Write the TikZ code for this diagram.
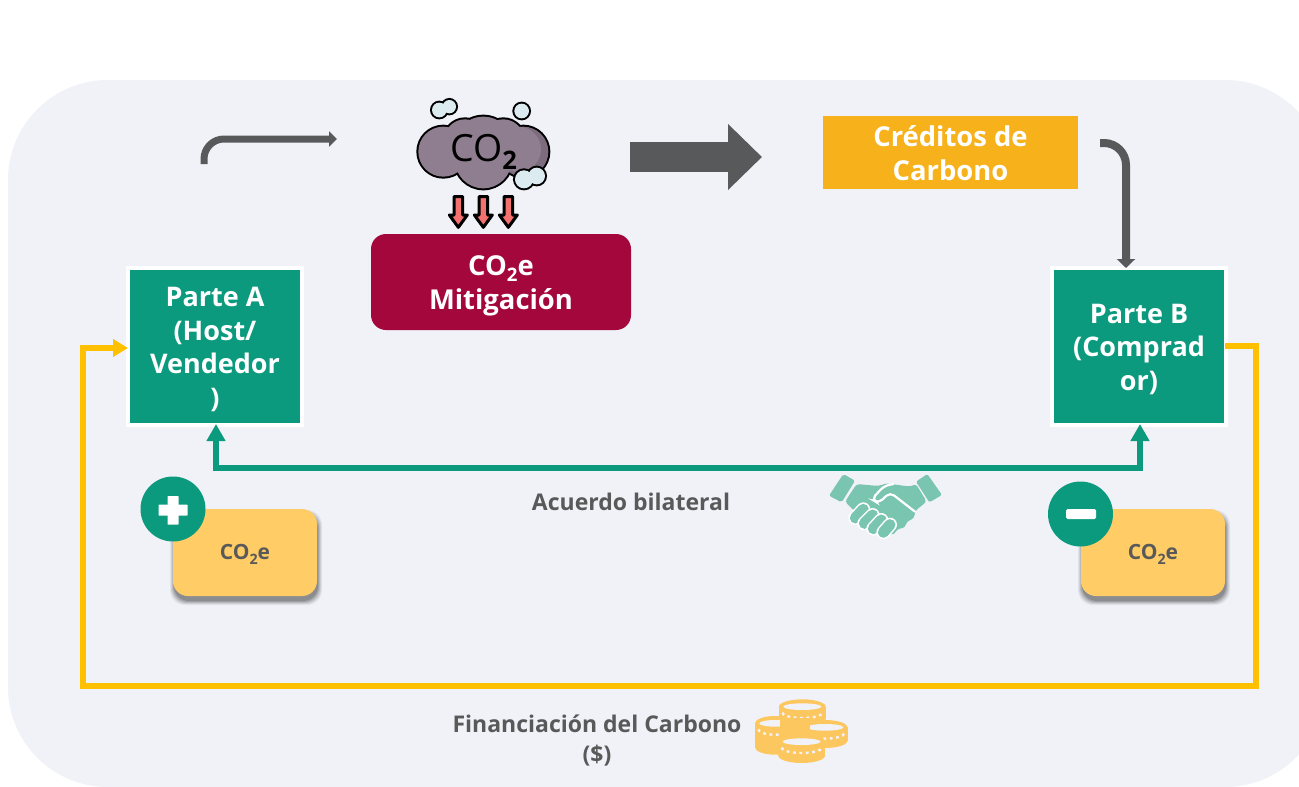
\documentclass[tikz,border=0pt]{standalone}
\usepackage{fontspec}
\usepackage{graphicx}
\setmainfont{Open Sans}
\usetikzlibrary{arrows.meta,calc}
\definecolor{bgc}{HTML}{F0F2F8}
\definecolor{greenc}{HTML}{0B9A7E}
\definecolor{greyc}{HTML}{58595B}
\definecolor{txtc}{HTML}{595959}
\definecolor{goldc}{HTML}{FFC000}
\definecolor{softc}{HTML}{FFCC66}
\definecolor{coinc}{HTML}{FDC75F}
\definecolor{redc}{HTML}{A4073B}
\definecolor{orangec}{HTML}{F6B11B}
\definecolor{shakec}{HTML}{7AC5B0}
\definecolor{cloudc}{HTML}{8F7E90}
\definecolor{cloudd}{HTML}{7C6C7E}
\definecolor{puffc}{HTML}{DCEBF0}
\definecolor{arrowred}{HTML}{F4716F}
\newcommand{\subtwo}{\raisebox{-.22em}{\scalebox{.68}{2}}}
\newcommand{\coinstack}[4]{% x y rx bodyheight
  \fill[coinc] (#1,#2) ellipse[x radius=#3,y radius=22];
  \fill[coinc] (#1,#2+#4) ellipse[x radius=#3,y radius=22];
  \fill[coinc] (#1-#3,#2) rectangle (#1+#3,#2+#4);
  \fill[bgc] (#1,#2) ellipse[x radius=#3-13,y radius=10];
  \draw[bgc,line width=2.4pt,dash pattern=on 2.8pt off 3.6pt] (#1-#3+10,#2+18) arc[start angle=180,end angle=0,x radius=#3-10,y radius=16];
}
\newcommand{\softshadowat}[2]{%
  \foreach \grow/\op in {4/.06,3/.08,2/.10,1/.12,0/.14}{
    \fill[black,opacity=\op,rounded corners=15pt] (#1-72-\grow+1,#2-43.5-\grow+5) rectangle (#1+72+\grow+1,#2+43.5+\grow+5);
  }
}
\tikzset{
  x=1pt,y=-1pt,
  party/.style={fill=greenc,draw=white,line width=4pt,minimum width=174pt,minimum height=157pt,inner sep=0pt},
  partytext/.style={inner sep=0pt,text=white,align=center,font=\bfseries\fontsize{27}{33.5}\selectfont},
  softbox/.style={fill=softc,rounded corners=15pt,minimum width=144pt,minimum height=87pt,inner sep=0pt},
  softtext/.style={inner sep=0pt,text=txtc,font=\bfseries\fontsize{21}{24}\selectfont},
  badge/.style={circle,fill=greenc,minimum size=65pt,inner sep=0pt},
  capt/.style={text=txtc,align=center,font=\bfseries\fontsize{23}{30}\selectfont},
  titlebox/.style={inner sep=0pt},
  titletext/.style={text=white,align=center,inner sep=0pt,font=\bfseries\fontsize{27.4}{33.5}\selectfont},
  greyarrow/.style={draw=greyc,line width=8pt,rounded corners=22pt,-{Triangle[length=9pt,width=18pt]}},
  greenarrow/.style={draw=greenc,line width=6pt,{Triangle[length=17pt,width=18pt]}-{Triangle[length=17pt,width=18pt]}},
  goldarrow/.style={draw=goldc,line width=5.5pt,-{Triangle[length=15pt,width=17pt]}},
}
\begin{document}
\begin{tikzpicture}
\useasboundingbox (0,0) rectangle (1299,787);
\clip (0,0) rectangle (1299,787);
\fill[white] (0,0) rectangle (1299,787);
\fill[bgc,rounded corners=100pt] (8,80) rectangle (1325,787);

% boxes
\node[party] (a) at (215,346.5) {};
\node[partytext] (atext) at (215,349.5) {Parte A\\(Host/\\Vendedor\\)};
\node[party] (b) at (1139,346.5) {};
\node[partytext] (btext) at (1139,349) {Parte B\\(Comprad\\or)};
\node[titlebox,fill=redc,rounded corners=15pt,minimum width=260pt,minimum height=96pt] (mit) at (501,282) {};
\node[titletext] (mittext) at (501,286) {CO\subtwo e\\Mitigación};
\node[titlebox,fill=orangec,minimum width=255pt,minimum height=73pt] (cred) at (950.5,152.5) {};
\node[titletext] (credtext) at (950.5,153) {Créditos de\\Carbono};

% block arrow and grey arrows
\coordinate (blockS) at (630,157);
\coordinate (blockE) at (762,157);
\draw[draw=greyc,line width=30pt,-{Triangle[length=34pt,width=64pt]}] (blockS) -- (blockE);
\coordinate (leftS) at (204,164);
\coordinate (leftE) at (337,139);
\draw[draw=greyc,line width=7pt,rounded corners=20pt,-{Triangle[length=8pt,width=15pt]}] (leftS) -- (204,139) -- (leftE);
\coordinate (credS) at (1100,143);
\coordinate (bTop) at (1126,268);
\draw[greyarrow] (credS) -- (1126,143) -- (bTop);

% bilateral agreement
\coordinate (aU) at (216,424);
\coordinate (bU) at (1140,424);
\draw[greenarrow] (aU) -- (216,468) -- (1140,468) -- (bU);
\node[capt] (acuerdo) at (631,502) {Acuerdo bilateral};

% financing
\coordinate (goldS) at (1225,346);
\coordinate (goldE) at (128,348);
\draw[goldarrow] (goldS) -- (1256,346) -- (1256,686) -- (83,686) -- (83,348) -- (goldE);
\node[capt] (fin) at (597,741) {Financiación del Carbono\\(\$)};

% CO2e tokens
\softshadowat{245}{552.5}
\softshadowat{1153}{552.5}
\node[softbox] (ca) at (245,552.5) {};
\node[softbox] (cb) at (1153,552.5) {};
\node[softtext] (catext) at (245,554.5) {CO\subtwo e};
\node[softtext] (cbtext) at (1153,554.5) {CO\subtwo e};
\node[badge] (plus) at (173,509) {};
\node[badge] (minus) at (1080.5,514) {};
\fill[white,rounded corners=.5pt] (158.5,504.5) rectangle (187.5,515.5);
\fill[white,rounded corners=.5pt] (167.5,496) rectangle (178.5,524.5);
\fill[white,rounded corners=1.5pt] (1066,509) rectangle (1096,519);

% handshake
\begin{scope}[shift={(810,460)},scale=1/3]
  \fill[shakec,rounded corners=2pt] (100,42) -- (135,62) -- (95,127) -- (57,107) -- cycle;
  \fill[shakec,rounded corners=2pt] (352,42) -- (396,105) -- (358,127) -- (318,65) -- cycle;
  \fill[shakec,rounded corners=3pt] (140,72) -- (205,78) -- (230,70) -- (300,80) -- (318,72) -- (350,125) -- (316,152) -- (312,175) -- (290,185) -- (285,203) -- (262,207) -- (250,226) -- (225,215) -- (130,150) -- (105,125) -- cycle;
  \foreach \xa/\ya/\xb/\yb in {136/174/160/148, 163/190/188/165, 190/206/214/180, 220/217/240/194}{
    \draw[white,line width=14pt,line cap=round] (\xa,\ya) -- (\xb,\yb);
    \draw[shakec,line width=11pt,line cap=round] (\xa,\ya) -- (\xb,\yb);
  }
  \draw[white,line width=2.2pt,line cap=round,rounded corners=5pt] (315,155) -- (240,97) -- (205,130) -- (185,118) -- (222,78) -- (250,72);
\end{scope}

% coins
\begin{scope}[shift={(740,690)},scale=1/3]
  \coinstack{187}{50}{70}{38}
  \coinstack{105}{100}{60}{72}
  \coinstack{255}{112}{68}{40}
  \fill[coinc] (120,85) rectangle (210,150);
  \coinstack{185}{155}{70}{42}
\end{scope}

% cloud
\begin{scope}[shift={(400,90)},scale=1/3]
  \foreach \px/\py/\pr in {130/185/75, 195/150/62, 250/170/90, 310/150/62, 370/185/75, 250/210/85}{
    \draw[black,line width=4pt] (\px,\py) circle[radius=\pr];
  }
  \foreach \px/\py/\pr in {370/185/75}{
    \fill[cloudd] (\px,\py) circle[radius=\pr];
  }
  \foreach \px/\py/\pr in {130/185/75, 195/150/62, 250/170/90, 310/150/62, 355/178/68, 250/210/85}{
    \fill[cloudc] (\px,\py) circle[radius=\pr];
  }
  \foreach \px/\py/\pr in {118/60/22, 148/50/20, 365/63/22, 372/268/27, 410/258/25}{
    \draw[black,line width=4pt] (\px,\py) circle[radius=\pr];
  }
  \foreach \px/\py/\pr in {118/60/22, 148/50/20, 365/63/22, 372/268/27, 410/258/25}{
    \fill[puffc] (\px,\py) circle[radius=\pr];
  }
  \foreach \ax in {175,250,325}{
    \draw[black,line width=3pt,fill=arrowred,line join=round] (\ax-13,320) -- (\ax+13,320) -- (\ax+13,375) -- (\ax+27,375) -- (\ax,412) -- (\ax-27,375) -- (\ax-13,375) -- cycle;
  }
\end{scope}
\node[text=black,inner sep=0pt,font=\fontsize{37.5}{38}\selectfont] (co) at (483.5,152) {CO\raisebox{-.22em}{\scalebox{.68}{\bfseries 2}}};
\end{tikzpicture}
\end{document}
